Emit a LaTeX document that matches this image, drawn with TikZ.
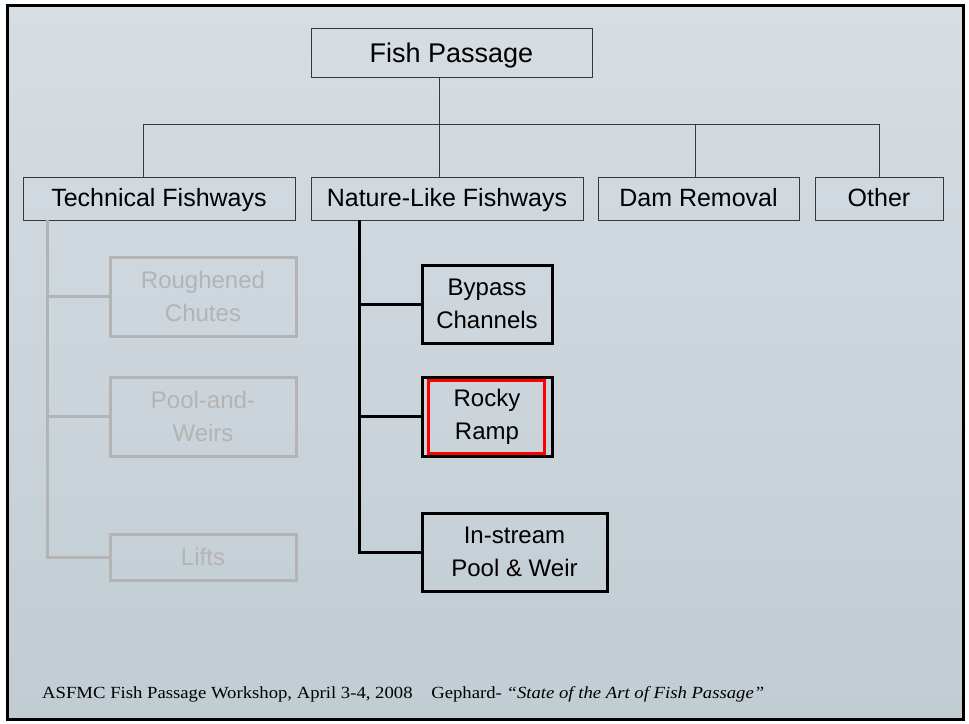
\documentclass[tikz,border=0pt]{standalone}
\usepackage{fontspec}
\setmainfont{Liberation Sans}
\newfontfamily\footfont[FakeStretch=1.1]{Liberation Serif}
\definecolor{seatop}{HTML}{D6DDE3}
\definecolor{seabot}{HTML}{C1CDD3}
\definecolor{fadegray}{HTML}{B4B4B4}
\definecolor{boxline}{HTML}{383838}
\tikzset{%
    lvl/.style={draw=boxline,line width=0.9pt,inner sep=0pt,minimum height=43pt,text height=19pt,text depth=4pt,font=\fontsize{25}{30}\selectfont}
}

\begin{document}
\begin{tikzpicture}[x=1pt,y=-1pt,
        rootbox/.style={lvl,minimum height=49pt,text height=22pt,text depth=2pt,font=\fontsize{27}{32}\selectfont},
        sub/.style={draw=black,line width=3pt,align=center,inner sep=0pt,font=\fontsize{24}{33}\selectfont},
        faded/.style={sub,draw=fadegray,text=fadegray},
        link/.style={draw=boxline,line width=0.9pt},
        biglink/.style={draw=black,line width=3pt},
        palelink/.style={draw=fadegray,line width=3pt}
        ]
        \useasboundingbox (0,0) rectangle (969,723);
        \fill[white] (0,0) rectangle (969,723);
        \fill[top color=seatop,bottom color=seabot] (7,5) rectangle (963,719);
        \draw[line width=3pt] (7,5) rectangle (963,719);

        \node[rootbox,minimum width=281pt] (fish) at (451.5,52.5){Fish Passage};

        \node[lvl,minimum width=272pt] (tech) at (159,198.5){Technical Fishways};
        \node[lvl,minimum width=272pt] (nature) at (447,198.5){Nature-Like Fishways};
        \node[lvl,minimum width=201pt] (dam) at (698.5,198.5){Dam Removal};
        \node[lvl,minimum width=128pt] (other) at (879,198.5){Other};

        \node[faded,minimum width=186pt,minimum height=79pt] (rough) at (203,296.5){Roughened\\Chutes};
        \node[faded,minimum width=186pt,minimum height=79pt] (pool) at (203,416.5){Pool-and-\\Weirs};
        \node[faded,minimum width=186pt,minimum height=46pt] (lifts) at (203,557){Lifts};

        \node[sub,minimum width=130pt,minimum height=78pt] (bypass) at (487,304){Bypass\\Channels};
        \node[sub,minimum width=130pt,minimum height=79pt] (rocky) at (487,416.5){Rocky\\Ramp};
        \node[sub,minimum width=185pt,minimum height=78pt] (instream) at (514.5,552){In-stream\\Pool \& Weir};

        \coordinate (bus) at (439,124);
        \coordinate (busL) at (143,124);
        \coordinate (busD) at (695,124);
        \coordinate (busR) at (879,124);
        \coordinate (tspine) at (47,0);
        \coordinate (nspine) at (359,0);

        \draw[link] (fish.south -| bus) -- (bus);
        \draw[link] (busL) -- (busR);
        \draw[link] (busL) -- (busL |- tech.north);
        \draw[link] (bus) -- (bus |- nature.north);
        \draw[link] (busD) -- (busD |- dam.north);
        \draw[link] (busR) -- (busR |- other.north);

        \draw[palelink] (tspine |- tech.south) -- (tspine |- lifts.west) -- (lifts.west);
        \draw[palelink] (tspine |- rough.west) -- (rough.west);
        \draw[palelink] (tspine |- pool.west) -- (pool.west);

        \draw[biglink] (nspine |- nature.south) -- (nspine |- instream.west) -- (instream.west);
        \draw[biglink] (nspine |- bypass.west) -- (bypass.west);
        \draw[biglink] (nspine |- rocky.west) -- (rocky.west);

        \draw[red,line width=2.5pt] ([shift={(8,5)}]rocky.north west) rectangle ([shift={(-9,-4)}]rocky.south east);

        \node[anchor=base west,inner sep=0pt,font=\footfont\fontsize{17}{19}\selectfont] (foot) at (42,698){ASFMC Fish Passage Workshop, April 3-4, 2008\hspace{1.1em}Gephard- \textit{“State of the Art of Fish Passage”}};
    \end{tikzpicture}
\end{document}
